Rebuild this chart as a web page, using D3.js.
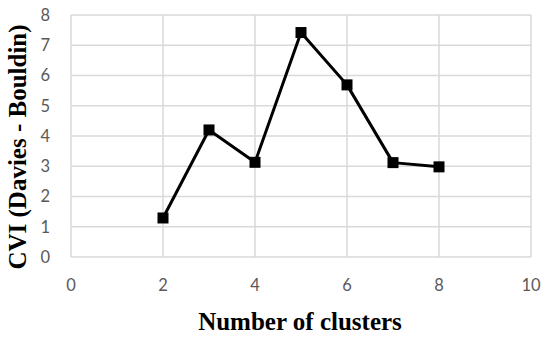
<!DOCTYPE html>
<html><head><meta charset="utf-8">
<script src="https://cdn.jsdelivr.net/npm/d3@7"></script>
<style>body{margin:0;background:#fff}svg{display:block}</style>
</head><body>
<script>
const clusters = [2, 3, 4, 5, 6, 7, 8];
const cviValues = [1.29, 4.2, 3.13, 7.42, 5.69, 3.12, 2.98];
const xTicks = [0, 2, 4, 6, 8, 10];
const yTicks = [0, 1, 2, 3, 4, 5, 6, 7, 8];
const xTitle = "Number of clusters";
const yTitle = "CVI (Davies - Bouldin)";

const W = 550, H = 339;
const m = {left: 71, right: 19, top: 15, bottom: 82};
const svg = d3.select("body").append("svg").attr("width", W).attr("height", H);
const x = d3.scaleLinear().domain([0, 10]).range([m.left, W - m.right]);
const y = d3.scaleLinear().domain([0, 8]).range([H - m.bottom, m.top]);

const grid = svg.append("g");
grid.selectAll(".h").data(yTicks).join("line")
  .attr("x1", x(0)).attr("x2", x(10)).attr("y1", d => y(d)).attr("y2", d => y(d))
  .attr("stroke", "#d9d9d9").attr("stroke-width", 1.5);
grid.selectAll(".v").data(xTicks).join("line")
  .attr("y1", y(0)).attr("y2", y(8)).attr("x1", d => x(d)).attr("x2", d => x(d))
  .attr("stroke", "#d9d9d9").attr("stroke-width", 1.5);

const font = "Lato, 'Open Sans', sans-serif";
svg.append("g").selectAll("text").data(yTicks).join("text")
  .attr("x", 50).attr("y", d => y(d)).attr("dy", "0.36em").attr("text-anchor", "end")
  .attr("font-family", font).attr("font-size", 16.5).attr("fill", "#595959").text(d => d);
svg.append("g").selectAll("text").data(xTicks).join("text")
  .attr("x", d => x(d)).attr("y", 291).attr("text-anchor", "middle")
  .attr("font-family", font).attr("font-size", 16.5).attr("fill", "#595959").text(d => d);

const pts = clusters.map((c, i) => [c, cviValues[i]]);
svg.append("path").datum(pts)
  .attr("d", d3.line().x(d => x(d[0])).y(d => y(d[1])))
  .attr("fill", "none").attr("stroke", "#000").attr("stroke-width", 3).attr("stroke-linejoin", "round");
const s = 11;
svg.append("g").selectAll("rect").data(pts).join("rect")
  .attr("x", d => x(d[0]) - s / 2).attr("y", d => y(d[1]) - s / 2)
  .attr("width", s).attr("height", s).attr("fill", "#000");

const tfont = "'Liberation Serif', 'DejaVu Serif', serif";
svg.append("text").attr("x", 300).attr("y", 330).attr("text-anchor", "middle")
  .attr("font-family", tfont).attr("font-weight", "bold").attr("font-size", 25)
  .attr("fill", "#000").text(xTitle);
svg.append("text").attr("transform", `translate(26,147) rotate(-90)`)
  .attr("text-anchor", "middle")
  .attr("font-family", tfont).attr("font-weight", "bold").attr("font-size", 25)
  .attr("fill", "#000").text(yTitle);
</script>
</body></html>
